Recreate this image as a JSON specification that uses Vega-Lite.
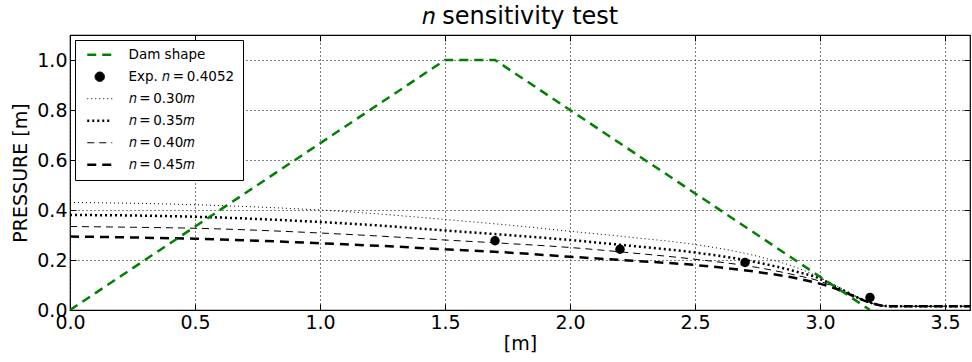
{
  "$schema": "https://vega.github.io/schema/vega-lite/v6.json",
  "width": 900,
  "height": 275,
  "autosize": "none",
  "padding": {"left": 70, "top": 35, "right": 2, "bottom": 52},
  "background": "white",
  "title": {"text": "𝑛 sensitivity test", "font": "DejaVu Sans", "fontSize": 24, "fontWeight": "normal", "color": "black", "offset": 6},
  "datasets": {
    "curves": [
      {"x":0,"y":0.430,"series":"𝑛\u2009=\u20090.30𝑚"},{"x":0.25,"y":0.427,"series":"𝑛\u2009=\u20090.30𝑚"},{"x":0.5,"y":0.421,"series":"𝑛\u2009=\u20090.30𝑚"},{"x":0.75,"y":0.412,"series":"𝑛\u2009=\u20090.30𝑚"},{"x":1.0,"y":0.400,"series":"𝑛\u2009=\u20090.30𝑚"},{"x":1.25,"y":0.383,"series":"𝑛\u2009=\u20090.30𝑚"},{"x":1.5,"y":0.362,"series":"𝑛\u2009=\u20090.30𝑚"},{"x":1.75,"y":0.340,"series":"𝑛\u2009=\u20090.30𝑚"},{"x":2.0,"y":0.315,"series":"𝑛\u2009=\u20090.30𝑚"},{"x":2.25,"y":0.290,"series":"𝑛\u2009=\u20090.30𝑚"},{"x":2.5,"y":0.262,"series":"𝑛\u2009=\u20090.30𝑚"},{"x":2.75,"y":0.215,"series":"𝑛\u2009=\u20090.30𝑚"},{"x":2.9,"y":0.172,"series":"𝑛\u2009=\u20090.30𝑚"},{"x":3.0,"y":0.130,"series":"𝑛\u2009=\u20090.30𝑚"},{"x":3.05,"y":0.105,"series":"𝑛\u2009=\u20090.30𝑚"},{"x":3.1,"y":0.078,"series":"𝑛\u2009=\u20090.30𝑚"},{"x":3.15,"y":0.052,"series":"𝑛\u2009=\u20090.30𝑚"},{"x":3.2,"y":0.030,"series":"𝑛\u2009=\u20090.30𝑚"},{"x":3.25,"y":0.017,"series":"𝑛\u2009=\u20090.30𝑚"},{"x":3.3,"y":0.015,"series":"𝑛\u2009=\u20090.30𝑚"},{"x":3.6,"y":0.015,"series":"𝑛\u2009=\u20090.30𝑚"},
      {"x":0,"y":0.380,"series":"𝑛\u2009=\u20090.35𝑚"},{"x":0.25,"y":0.378,"series":"𝑛\u2009=\u20090.35𝑚"},{"x":0.5,"y":0.373,"series":"𝑛\u2009=\u20090.35𝑚"},{"x":0.75,"y":0.364,"series":"𝑛\u2009=\u20090.35𝑚"},{"x":1.0,"y":0.352,"series":"𝑛\u2009=\u20090.35𝑚"},{"x":1.25,"y":0.337,"series":"𝑛\u2009=\u20090.35𝑚"},{"x":1.5,"y":0.318,"series":"𝑛\u2009=\u20090.35𝑚"},{"x":1.75,"y":0.300,"series":"𝑛\u2009=\u20090.35𝑚"},{"x":2.0,"y":0.280,"series":"𝑛\u2009=\u20090.35𝑚"},{"x":2.25,"y":0.256,"series":"𝑛\u2009=\u20090.35𝑚"},{"x":2.5,"y":0.230,"series":"𝑛\u2009=\u20090.35𝑚"},{"x":2.75,"y":0.190,"series":"𝑛\u2009=\u20090.35𝑚"},{"x":2.9,"y":0.155,"series":"𝑛\u2009=\u20090.35𝑚"},{"x":3.0,"y":0.125,"series":"𝑛\u2009=\u20090.35𝑚"},{"x":3.05,"y":0.100,"series":"𝑛\u2009=\u20090.35𝑚"},{"x":3.1,"y":0.075,"series":"𝑛\u2009=\u20090.35𝑚"},{"x":3.15,"y":0.050,"series":"𝑛\u2009=\u20090.35𝑚"},{"x":3.2,"y":0.030,"series":"𝑛\u2009=\u20090.35𝑚"},{"x":3.25,"y":0.017,"series":"𝑛\u2009=\u20090.35𝑚"},{"x":3.3,"y":0.015,"series":"𝑛\u2009=\u20090.35𝑚"},{"x":3.6,"y":0.015,"series":"𝑛\u2009=\u20090.35𝑚"},
      {"x":0,"y":0.334,"series":"𝑛\u2009=\u20090.40𝑚"},{"x":0.25,"y":0.331,"series":"𝑛\u2009=\u20090.40𝑚"},{"x":0.5,"y":0.327,"series":"𝑛\u2009=\u20090.40𝑚"},{"x":0.75,"y":0.319,"series":"𝑛\u2009=\u20090.40𝑚"},{"x":1.0,"y":0.308,"series":"𝑛\u2009=\u20090.40𝑚"},{"x":1.25,"y":0.295,"series":"𝑛\u2009=\u20090.40𝑚"},{"x":1.5,"y":0.280,"series":"𝑛\u2009=\u20090.40𝑚"},{"x":1.75,"y":0.266,"series":"𝑛\u2009=\u20090.40𝑚"},{"x":2.0,"y":0.250,"series":"𝑛\u2009=\u20090.40𝑚"},{"x":2.25,"y":0.228,"series":"𝑛\u2009=\u20090.40𝑚"},{"x":2.5,"y":0.203,"series":"𝑛\u2009=\u20090.40𝑚"},{"x":2.75,"y":0.170,"series":"𝑛\u2009=\u20090.40𝑚"},{"x":2.9,"y":0.140,"series":"𝑛\u2009=\u20090.40𝑚"},{"x":3.0,"y":0.115,"series":"𝑛\u2009=\u20090.40𝑚"},{"x":3.05,"y":0.095,"series":"𝑛\u2009=\u20090.40𝑚"},{"x":3.1,"y":0.072,"series":"𝑛\u2009=\u20090.40𝑚"},{"x":3.15,"y":0.050,"series":"𝑛\u2009=\u20090.40𝑚"},{"x":3.2,"y":0.030,"series":"𝑛\u2009=\u20090.40𝑚"},{"x":3.25,"y":0.017,"series":"𝑛\u2009=\u20090.40𝑚"},{"x":3.3,"y":0.015,"series":"𝑛\u2009=\u20090.40𝑚"},{"x":3.6,"y":0.015,"series":"𝑛\u2009=\u20090.40𝑚"},
      {"x":0,"y":0.294,"series":"𝑛\u2009=\u20090.45𝑚"},{"x":0.25,"y":0.290,"series":"𝑛\u2009=\u20090.45𝑚"},{"x":0.5,"y":0.285,"series":"𝑛\u2009=\u20090.45𝑚"},{"x":0.75,"y":0.277,"series":"𝑛\u2009=\u20090.45𝑚"},{"x":1.0,"y":0.267,"series":"𝑛\u2009=\u20090.45𝑚"},{"x":1.25,"y":0.256,"series":"𝑛\u2009=\u20090.45𝑚"},{"x":1.5,"y":0.243,"series":"𝑛\u2009=\u20090.45𝑚"},{"x":1.75,"y":0.230,"series":"𝑛\u2009=\u20090.45𝑚"},{"x":2.0,"y":0.213,"series":"𝑛\u2009=\u20090.45𝑚"},{"x":2.25,"y":0.197,"series":"𝑛\u2009=\u20090.45𝑚"},{"x":2.5,"y":0.180,"series":"𝑛\u2009=\u20090.45𝑚"},{"x":2.75,"y":0.152,"series":"𝑛\u2009=\u20090.45𝑚"},{"x":2.9,"y":0.128,"series":"𝑛\u2009=\u20090.45𝑚"},{"x":3.0,"y":0.105,"series":"𝑛\u2009=\u20090.45𝑚"},{"x":3.05,"y":0.090,"series":"𝑛\u2009=\u20090.45𝑚"},{"x":3.1,"y":0.070,"series":"𝑛\u2009=\u20090.45𝑚"},{"x":3.15,"y":0.048,"series":"𝑛\u2009=\u20090.45𝑚"},{"x":3.2,"y":0.030,"series":"𝑛\u2009=\u20090.45𝑚"},{"x":3.25,"y":0.017,"series":"𝑛\u2009=\u20090.45𝑚"},{"x":3.3,"y":0.015,"series":"𝑛\u2009=\u20090.45𝑚"},{"x":3.6,"y":0.015,"series":"𝑛\u2009=\u20090.45𝑚"}
    ],
    "dam": [
      {"x":0,"y":0,"series":"Dam shape"},{"x":1.5,"y":1.0,"series":"Dam shape"},{"x":1.7,"y":1.0,"series":"Dam shape"},{"x":3.2,"y":0,"series":"Dam shape"}
    ],
    "exp": [
      {"x":1.7,"y":0.277,"series":"Exp. 𝑛\u2009=\u20090.4052"},{"x":2.2,"y":0.243,"series":"Exp. 𝑛\u2009=\u20090.4052"},{"x":2.7,"y":0.190,"series":"Exp. 𝑛\u2009=\u20090.4052"},{"x":3.2,"y":0.050,"series":"Exp. 𝑛\u2009=\u20090.4052"}
    ]
  },
  "encoding": {
    "x": {"field": "x", "type": "quantitative", "scale": {"domain": [0, 3.6], "nice": false, "zero": false},
      "axis": {"values": [0,0.5,1,1.5,2,2.5,3,3.5], "format": ".1f", "title": "[m]"}},
    "y": {"field": "y", "type": "quantitative", "scale": {"domain": [0, 1.1], "nice": false},
      "axis": {"values": [0,0.2,0.4,0.6,0.8,1.0], "format": ".1f", "title": "PRESSURE [m]"}}
  },
  "resolve": {"axis": {"x": "independent", "y": "independent"}},
  "layer": [
    {
      "data": {"name": "curves"},
      "mark": {"type": "line", "interpolate": "monotone", "clip": true},
      "encoding": {
        "color": {"field": "series", "type": "nominal", "title": null,
          "scale": {"domain": ["Dam shape","Exp. 𝑛\u2009=\u20090.4052","𝑛\u2009=\u20090.30𝑚","𝑛\u2009=\u20090.35𝑚","𝑛\u2009=\u20090.40𝑚","𝑛\u2009=\u20090.45𝑚"], "range": ["#008000","black","black","black","black","black"]},
          "legend": {
            "encode": {
              "symbols": {
                "update": {
                  "strokeWidth": {"signal": "indexof(['Dam shape','𝑛\u2009=\u20090.35𝑚','𝑛\u2009=\u20090.45𝑚'], datum.value) >= 0 ? 2.5 : 1"},
                  "size": {"signal": "datum.value === 'Exp. 𝑛\u2009=\u20090.4052' ? 90 : 625"}
                }
              }
            }
          }},
        "strokeDash": {"field": "series", "type": "nominal", "title": null,
          "scale": {"domain": ["Dam shape","Exp. 𝑛\u2009=\u20090.4052","𝑛\u2009=\u20090.30𝑚","𝑛\u2009=\u20090.35𝑚","𝑛\u2009=\u20090.40𝑚","𝑛\u2009=\u20090.45𝑚"], "range": [[9,6],[1,0],[1,3],[2,3],[7,5],[9,6]]}},
        "strokeWidth": {"field": "series", "type": "nominal", "legend": null,
          "scale": {"type": "ordinal", "domain": ["Dam shape","Exp. 𝑛\u2009=\u20090.4052","𝑛\u2009=\u20090.30𝑚","𝑛\u2009=\u20090.35𝑚","𝑛\u2009=\u20090.40𝑚","𝑛\u2009=\u20090.45𝑚"], "range": [2.5,1,1,2.5,1,2.5]}}
      }
    },
    {
      "data": {"name": "dam"},
      "mark": {"type": "line", "clip": true},
      "encoding": {
        "x": {"field": "x", "type": "quantitative", "axis": null},
        "y": {"field": "y", "type": "quantitative", "axis": null},
        "color": {"field": "series", "type": "nominal", "title": null},
        "strokeDash": {"field": "series", "type": "nominal", "title": null},
        "strokeWidth": {"field": "series", "type": "nominal", "legend": null}
      }
    },
    {
      "data": {"name": "exp"},
      "mark": {"type": "point", "filled": true, "opacity": 1, "clip": true, "size": 90},
      "encoding": {
        "x": {"field": "x", "type": "quantitative", "axis": {"orient": "top", "values": [0,0.5,1,1.5,2,2.5,3,3.5], "labels": false, "grid": false, "title": null}},
        "y": {"field": "y", "type": "quantitative", "axis": {"orient": "right", "values": [0,0.2,0.4,0.6,0.8,1.0], "labels": false, "grid": false, "title": null}},
        "color": {"field": "series", "type": "nominal", "title": null},
        "shape": {"field": "series", "type": "nominal", "title": null,
          "scale": {"domain": ["Dam shape","Exp. 𝑛\u2009=\u20090.4052","𝑛\u2009=\u20090.30𝑚","𝑛\u2009=\u20090.35𝑚","𝑛\u2009=\u20090.40𝑚","𝑛\u2009=\u20090.45𝑚"], "range": ["stroke","circle","stroke","stroke","stroke","stroke"]}}
      }
    }
  ],
  "config": {
    "font": "DejaVu Sans",
    "view": {"stroke": "black", "strokeWidth": 1.2},
    "axis": {
      "labelFont": "DejaVu Sans", "labelFontSize": 19, "labelColor": "black",
      "titleFont": "DejaVu Sans", "titleFontSize": 19, "titleFontWeight": "normal", "titleColor": "black",
      "grid": true, "gridColor": "black", "gridOpacity": 1, "gridDash": [1,3], "gridWidth": 1,
      "domain": false, "ticks": true, "tickColor": "black", "tickSize": -6, "tickWidth": 1, "labelPadding": 9, "labelFlush": false, "labelOverlap": false
    },
    "axisX": {"titlePadding": 2},
    "axisY": {"titlePadding": 6},
    "legend": {
      "orient": "top-left", "offset": 5, "strokeColor": "black", "fillColor": "white", "padding": 8,
      "labelFont": "DejaVu Sans", "labelFontSize": 13.5, "labelColor": "black", "rowPadding": 7,
      "symbolSize": 625, "symbolOffset": 10, "symbolFillColor": "black", "labelOffset": 22, "cornerRadius": 0
    }
  }
}
